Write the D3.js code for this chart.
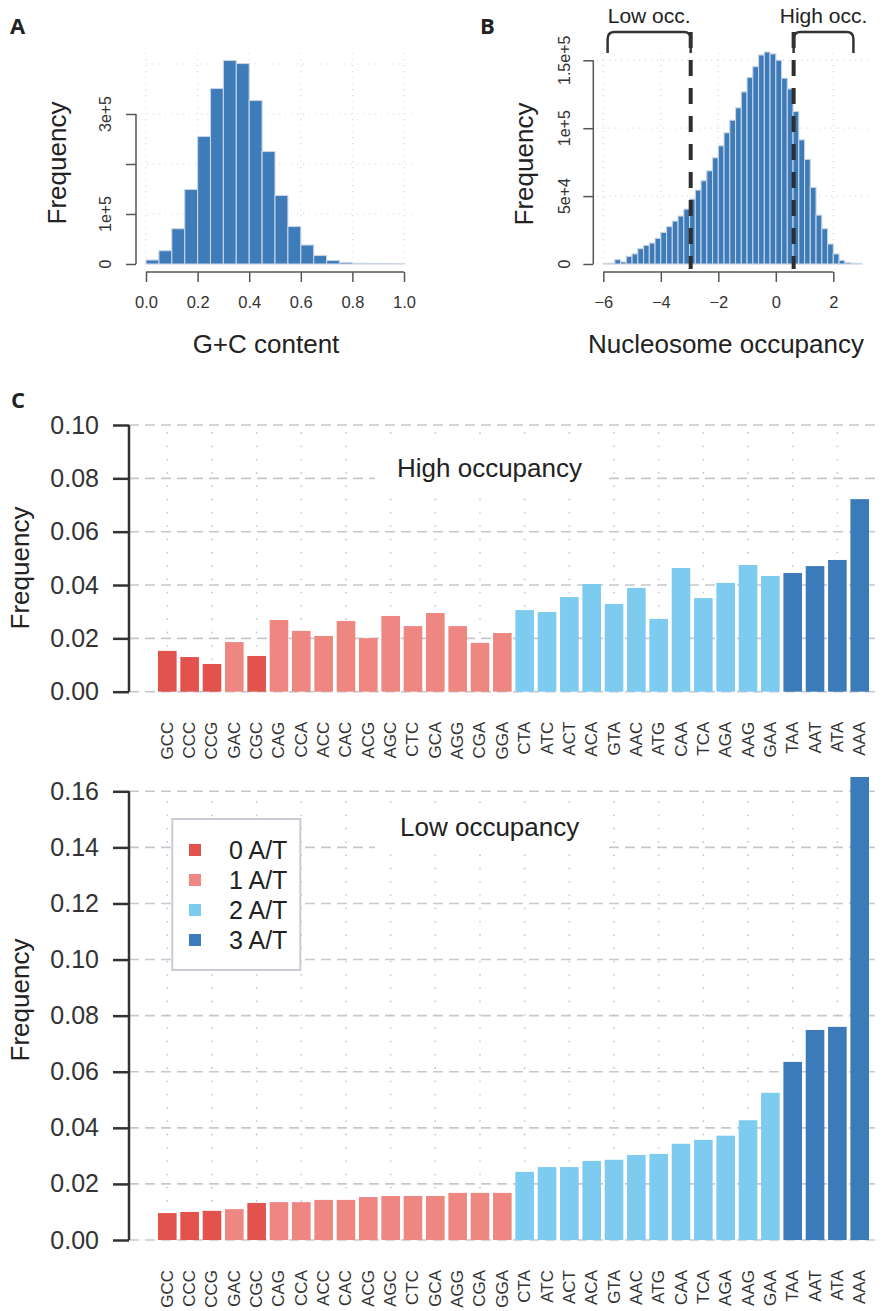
<!DOCTYPE html>
<html>
<head>
<meta charset="utf-8">
<script src="https://cdn.jsdelivr.net/npm/d3@7"></script>
<style>
body{margin:0;background:#fff}
svg{display:block;font-family:"Liberation Sans",Arial,sans-serif}
</style>
</head>
<body>
<svg width="889" height="1311"></svg>
<script>
// panel A: G+C content histogram
const gcEdges = [0,0.05,0.1,0.15,0.2,0.25,0.3,0.35,0.4,0.45,0.5,0.55,0.6,0.65,0.7,0.75,0.8,0.85,0.9,0.95,1.0];
const gcCounts = [8000,26600,70600,149000,255000,351000,407000,401000,327000,225000,137000,75000,38000,17000,7000,3000,1500,1000,700,300];
const gcXTicks = [0,0.2,0.4,0.6,0.8,1.0];
const gcXLabels = ['0.0','0.2','0.4','0.6','0.8','1.0'];
const gcYTicks = [0,1e5,2e5,3e5];
const gcYLabels = ['0','1e+5','','3e+5'];
const gcYGrid = [0,1e5,2e5,3e5,4e5];

// panel B: nucleosome occupancy histogram
const occEdges = [-6.0,-5.8,-5.6,-5.4,-5.2,-5.0,-4.8,-4.6,-4.4,-4.2,-4.0,-3.8,-3.6,-3.4,-3.2,-3.0,-2.8,-2.6,-2.4,-2.2,-2.0,-1.8,-1.6,-1.4,-1.2,-1.0,-0.8,-0.6,-0.4,-0.2,0,0.2,0.4,0.6,0.8,1.0,1.2,1.4,1.6,1.8,2.0,2.2,2.4,2.6,2.8,3.0];
const occCounts = [500,500,3200,1500,5600,7400,11300,13700,15400,18900,23300,27500,31600,35300,40400,47800,54400,61300,68600,78200,87000,96600,105900,115000,126700,137300,145300,153900,156100,154700,150000,136800,128900,112300,91400,77000,56400,36000,26000,14700,7400,2700,1000,500,250];
const occXTicks = [-6,-4,-2,0,2];
const occXLabels = ['\u22126','\u22124','\u22122','0','2'];
const occYTicks = [0,5e4,1e5,1.5e5];
const occYLabels = ['0','5e+4','1e+5','1.5e+5'];
const occCuts = [-2.96,0.62];
const lowBracket = [-5.85,-2.96];
const highBracket = [0.62,2.70];

// panel C: codon frequencies
const codons = ['GCC','CCC','CCG','GAC','CGC','CAG','CCA','ACC','CAC','ACG','AGC','CTC','GCA','AGG','CGA','GGA',
  'CTA','ATC','ACT','ACA','GTA','AAC','ATG','CAA','TCA','AGA','AAG','GAA','TAA','AAT','ATA','AAA'];
const highFreq = [0.0153,0.0130,0.0104,0.0186,0.0134,0.0269,0.0228,0.0209,0.0265,0.0201,0.0284,0.0246,0.0295,0.0246,0.0183,0.0220,
  0.0306,0.0299,0.0355,0.0404,0.0329,0.0389,0.0273,0.0464,0.0351,0.0408,0.0475,0.0434,0.0445,0.0471,0.0494,0.0722];
const lowFreq = [0.0096,0.0100,0.0104,0.0110,0.0132,0.0135,0.0135,0.0143,0.0143,0.0153,0.0157,0.0157,0.0157,0.0168,0.0168,0.0168,
  0.0243,0.0260,0.0260,0.0282,0.0286,0.0303,0.0307,0.0343,0.0357,0.0372,0.0427,0.0525,0.0635,0.0749,0.0760,0.1651];
const highTicks = [0,0.02,0.04,0.06,0.08,0.10];
const lowTicks = [0,0.02,0.04,0.06,0.08,0.10,0.12,0.14,0.16];
const atLabels = ['0 A/T','1 A/T','2 A/T','3 A/T'];
const atColors = ['#e2534e','#ee8681','#7ecbf0','#3c7bba'];

const svg = d3.select('svg');
const ink = '#222';
const axisCol = '#555';
const gridCol = '#d8d8dc';

function histPanel(opt){
  const g = svg.append('g');
  const x = d3.scaleLinear().domain(opt.xDom).range(opt.xRange);
  const y = d3.scaleLinear().domain(opt.yDom).range(opt.yRange);

  // dotted grid
  g.selectAll('.hg').data(opt.yGrid).enter().append('line')
    .attr('x1',opt.gridX[0]).attr('x2',opt.gridX[1])
    .attr('y1',d=>y(d)).attr('y2',d=>y(d))
    .attr('stroke',gridCol).attr('stroke-width',1.2).attr('stroke-dasharray','1,5');
  g.selectAll('.vg').data(opt.xTicks).enter().append('line')
    .attr('x1',d=>x(d)).attr('x2',d=>x(d))
    .attr('y1',opt.gridTop).attr('y2',y(0))
    .attr('stroke',gridCol).attr('stroke-width',1.2).attr('stroke-dasharray','1,5');

  const bins = opt.counts.map((c,i)=>({x0:opt.edges[i],x1:opt.edges[i+1],c:c}));
  g.selectAll('rect').data(bins).enter().append('rect')
    .attr('x',d=>x(d.x0)).attr('width',d=>x(d.x1)-x(d.x0))
    .attr('y',d=>y(d.c)).attr('height',d=>y(0)-y(d.c))
    .attr('fill','#3d7cb9').attr('stroke','#c9d3e6').attr('stroke-width',1.1);

  // x axis
  const xa = d3.axisBottom(x).tickValues(opt.xTicks).tickSize(10).tickFormat((d,i)=>opt.xLabels[i]);
  const xg = g.append('g').attr('transform',`translate(0,${opt.xAxisY})`).call(xa);
  xg.select('.domain').attr('stroke',axisCol).attr('stroke-width',1.5).attr('d',`M${x(opt.xTicks[0])},0H${x(opt.xTicks[opt.xTicks.length-1])}`);
  xg.selectAll('.tick line').attr('stroke',axisCol).attr('stroke-width',1.5);
  xg.selectAll('.tick text').attr('font-size',16.5).attr('fill','#333').attr('font-family','"Liberation Sans",Arial,sans-serif').attr('dy',null).attr('y',36);

  // y axis
  const ya = d3.axisLeft(y).tickValues(opt.yTicks).tickSize(10).tickFormat('');
  const yg = g.append('g').attr('transform',`translate(${opt.yAxisX},0)`).call(ya);
  yg.select('.domain').attr('stroke',axisCol).attr('stroke-width',1.5).attr('d',`M0,${y(opt.yTicks[0])}V${y(opt.yTicks[opt.yTicks.length-1])}`);
  yg.selectAll('.tick line').attr('stroke',axisCol).attr('stroke-width',1.5);
  g.selectAll('.ylab').data(opt.yTicks).enter().append('text')
    .attr('transform',d=>`translate(${opt.yLabX},${y(d)}) rotate(-90)`)
    .attr('text-anchor','middle').attr('font-size',16).attr('fill','#333')
    .text((d,i)=>opt.yLabels[i]);

  g.append('text').attr('transform',`translate(${opt.yTitle[0]},${opt.yTitle[1]}) rotate(-90)`)
    .attr('text-anchor','middle').attr('font-size',26).attr('fill',ink).text('Frequency');
  g.append('text').attr('x',opt.xTitle[0]).attr('y',opt.xTitle[1])
    .attr('text-anchor','middle').attr('font-size',26).attr('fill',ink).text(opt.xName);
  return {g,x,y};
}

histPanel({edges:gcEdges,counts:gcCounts,xDom:[0,1],xRange:[146,404],yDom:[0,4e5],yRange:[264,64],
  yGrid:gcYGrid,gridX:[135,414],gridTop:53,xTicks:gcXTicks,xLabels:gcXLabels,xAxisY:272,
  yTicks:gcYTicks,yLabels:gcYLabels,yAxisX:136,yLabX:111,yTitle:[66,163],xTitle:[266,353],xName:'G+C content'});

const B = histPanel({edges:occEdges,counts:occCounts,xDom:[-6,2],xRange:[603.3,833.3],yDom:[0,1.5e5],yRange:[264,60.3],
  yGrid:occYTicks,gridX:[597,872],gridTop:53,xTicks:occXTicks,xLabels:occXLabels,xAxisY:272,
  yTicks:occYTicks,yLabels:occYLabels,yAxisX:593.3,yLabX:570,yTitle:[533,164],xTitle:[726,353],xName:'Nucleosome occupancy'});

// cut-off lines and brackets
B.g.selectAll('.cut').data(occCuts).enter().append('line')
  .attr('x1',d=>B.x(d)).attr('x2',d=>B.x(d)).attr('y1',32).attr('y2',269)
  .attr('stroke','#2e2e2e').attr('stroke-width',4).attr('stroke-dasharray','16,12');
[lowBracket,highBracket].forEach(b=>{
  const x1 = B.x(b[0]), x2 = B.x(b[1]);
  B.g.append('path')
    .attr('d',`M${x1},53L${x1},39Q${x1},32 ${x1+7},32L${x2-7},32Q${x2},32 ${x2},39L${x2},53`)
    .attr('fill','none').attr('stroke','#333').attr('stroke-width',2.5);
});
B.g.append('text').attr('x',B.x(d3.mean(lowBracket))).attr('y',23).attr('text-anchor','middle')
  .attr('font-size',21).attr('fill',ink).text('Low occ.');
B.g.append('text').attr('x',B.x(d3.mean(highBracket))).attr('y',23).attr('text-anchor','middle')
  .attr('font-size',21).attr('fill',ink).text('High occ.');

// panel C bar charts
const xC = d3.scaleBand().domain(codons).range([158,869]).paddingInner(0.167).paddingOuter(0);
const atCount = c => c.split('').filter(ch => ch==='A' || ch==='T').length;

function barPanel(opt){
  const g = svg.append('g');
  const y = d3.scaleLinear().domain([0,opt.ticks[opt.ticks.length-1]]).range(opt.yRange);
  const cGrid = '#c6c7cf';

  g.selectAll('.hg').data(opt.ticks).enter().append('line')
    .attr('x1',129).attr('x2',878).attr('y1',d=>y(d)).attr('y2',d=>y(d))
    .attr('stroke',cGrid).attr('stroke-width',1.6).attr('stroke-dasharray','10,6');
  const vIdx = codons.filter((c,i)=>i%2===0);
  g.selectAll('.vg').data(vIdx).enter().append('line')
    .attr('x1',d=>xC(d)+xC.bandwidth()/2).attr('x2',d=>xC(d)+xC.bandwidth()/2)
    .attr('y1',opt.gridTop).attr('y2',y(0))
    .attr('stroke',cGrid).attr('stroke-width',1.8).attr('stroke-linecap','round').attr('stroke-dasharray','0,13.3');

  // white background behind the title
  g.append('rect').attr('x',375).attr('y',opt.titleY-32).attr('width',230).attr('height',46).attr('fill','#fff');
  g.append('text').attr('x',opt.titleX).attr('y',opt.titleY).attr('font-size',26).attr('fill',ink).text(opt.title);

  g.selectAll('.bar').data(codons).enter().append('rect')
    .attr('x',d=>xC(d)).attr('width',xC.bandwidth())
    .attr('y',(d,i)=>y(opt.values[i])).attr('height',(d,i)=>y(0)-y(opt.values[i]))
    .attr('fill',d=>atColors[atCount(d)]);

  const ya = d3.axisLeft(y).tickValues(opt.ticks).tickSize(16).tickPadding(14).tickFormat(d3.format('.2f'));
  const yg = g.append('g').attr('transform','translate(129,0)').call(ya);
  yg.select('.domain').attr('stroke','#333').attr('stroke-width',2.5).attr('d',`M0,${y(0)}V${y(opt.ticks[opt.ticks.length-1])}`);
  yg.selectAll('.tick line').attr('stroke','#333').attr('stroke-width',2.5);
  yg.selectAll('.tick text').attr('font-size',25).attr('fill','#333').attr('font-family','"Liberation Sans",Arial,sans-serif');

  g.selectAll('.xl').data(codons).enter().append('text')
    .attr('transform',d=>`translate(${xC(d)+xC.bandwidth()/2},${y(0)+30}) rotate(-90)`)
    .attr('text-anchor','end').attr('dominant-baseline','central')
    .attr('font-size',17).attr('fill','#333').text(d=>d);

  g.append('text').attr('transform',`translate(29,${opt.yTitleY}) rotate(-90)`)
    .attr('text-anchor','middle').attr('font-size',26).attr('fill',ink).text('Frequency');
  return {g,y};
}

barPanel({values:highFreq,ticks:highTicks,yRange:[691.7,425],gridTop:433,title:'High occupancy',titleX:397,titleY:476.7,yTitleY:568});
barPanel({values:lowFreq,ticks:lowTicks,yRange:[1240,791.3],gridTop:802,title:'Low occupancy',titleX:400,titleY:836,yTitleY:1000});

// legend
const leg = svg.append('g');
leg.append('rect').attr('x',172.3).attr('y',819).attr('width',128).attr('height',151)
  .attr('fill','#fff').attr('stroke','#c8ccd6').attr('stroke-width',2);
const items = leg.selectAll('.it').data(atLabels).enter().append('g')
  .attr('transform',(d,i)=>`translate(0,${850+i*30})`);
items.append('rect').attr('x',189).attr('y',-6).attr('width',12).attr('height',12).attr('fill',(d,i)=>atColors[i]);
items.append('text').attr('x',229).attr('y',9).attr('font-size',25).attr('fill',ink).text(d=>d);

// panel letters
[['A',10,34],['B',480,34],['C',11,408]].forEach(p=>{
  svg.append('text').attr('x',p[1]).attr('y',p[2]).attr('font-family','"Open Sans",sans-serif')
    .attr('font-weight','bold').attr('font-size',22).attr('fill','#222').text(p[0]);
});
</script>
</body>
</html>
